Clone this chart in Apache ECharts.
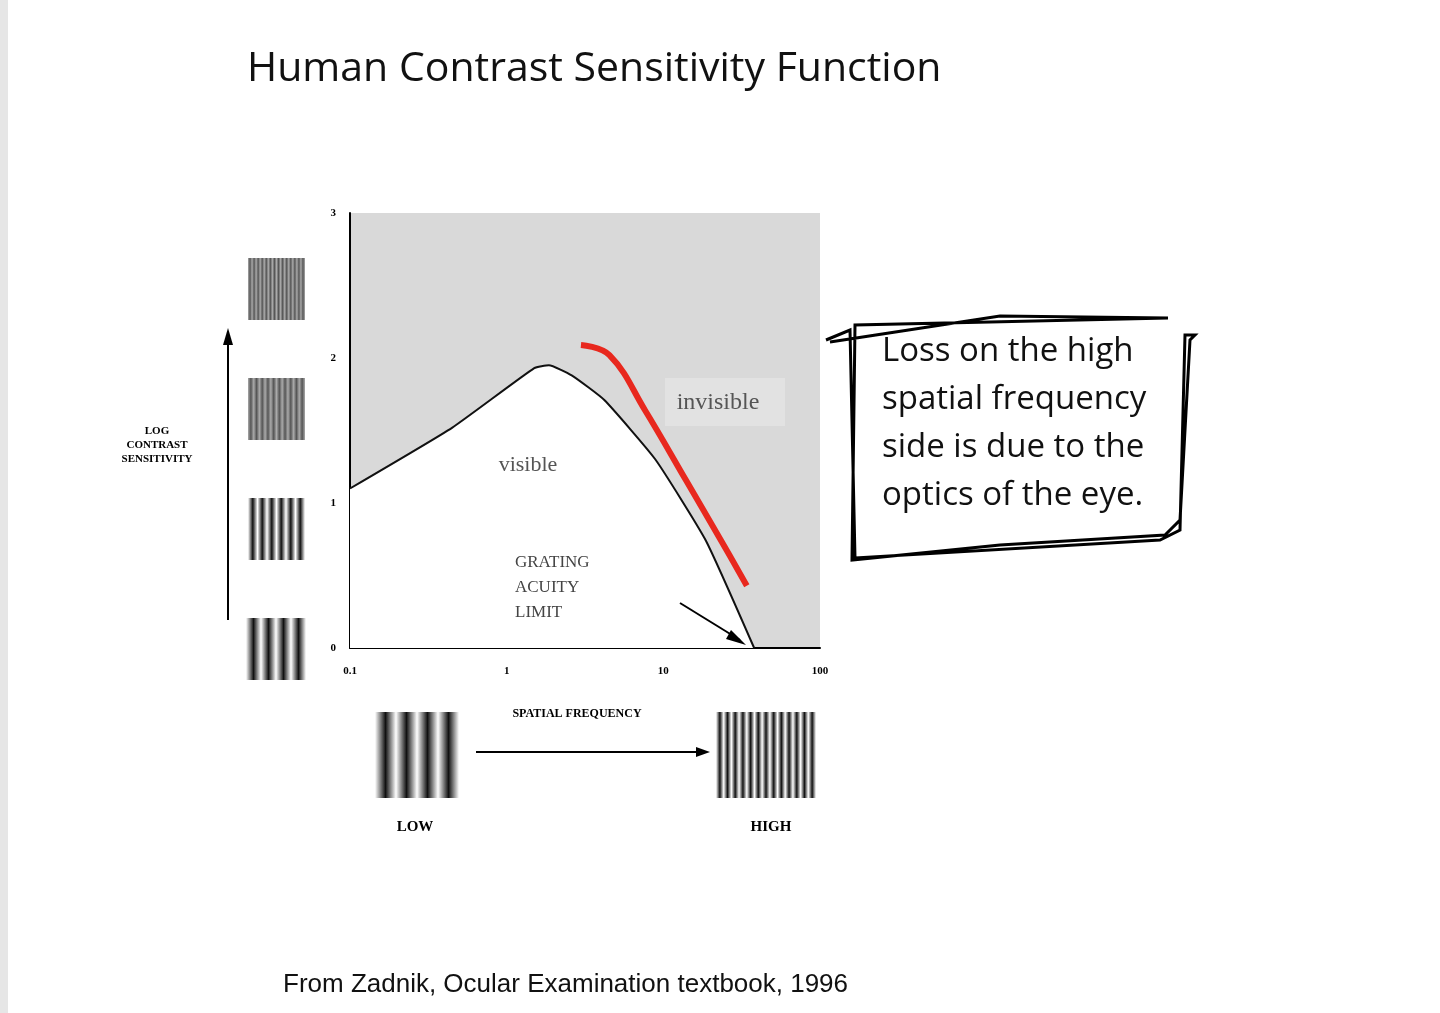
<!DOCTYPE html>
<html><head><meta charset="utf-8">
<script src="https://cdn.jsdelivr.net/npm/echarts@6/dist/echarts.min.js"></script>
<style>html,body{margin:0;background:#fff}#c{width:1440px;height:1013px}</style>
</head><body><div id="c"></div>
<script>
const xTicks = [0.1, 1, 10, 100];
const yTicks = [0, 1, 2, 3];
const csfFreq = [0.1, 0.45, 1.5, 1.86, 2.6, 4.2, 8.9, 18.7, 38];
const csfVal  = [1.10, 1.52, 1.93, 1.95, 1.88, 1.71, 1.30, 0.74, 0];
const redFreq = [2.98, 4.53, 7.64, 13.9, 23.4, 34.1];
const redVal  = [2.09, 2.02, 1.64, 1.16, 0.74, 0.43];

const chart = echarts.init(document.getElementById('c'));
const serif = '"Liberation Serif", "DejaVu Serif", serif';
const g = [];
g.push({type:'rect',shape:{x:0,y:0,width:8,height:1013},style:{fill:'#e6e6e6'}});
function grating(x,y,w,h,n,blur){
  const stops=[];
  for(let i=0;i<=n*2;i++){stops.push({offset:i/(n*2),color:i%2? (blur?'#555':'#111'):(blur?'#aaa':'#fff')});}
  g.push({type:'rect',shape:{x,y,width:w,height:h},style:{fill:new echarts.graphic.LinearGradient(0,0,1,0,stops)}});
}
grating(248,258,57,62,14,true);
grating(248,378,57,62,10,true);
grating(248,498,57,62,6,false);
grating(246,618,60,62,4,false);
grating(375,712,84,86,4,false);
grating(716,712,100,86,13,false);
g.push({type:'line',shape:{x1:228,y1:620,x2:228,y2:338},style:{stroke:'#000',lineWidth:2}});
g.push({type:'polygon',shape:{points:[[223,345],[233,345],[228,328]]},style:{fill:'#000'}});
g.push({type:'line',shape:{x1:476,y1:752,x2:700,y2:752},style:{stroke:'#000',lineWidth:2}});
g.push({type:'polygon',shape:{points:[[696,747],[696,757],[710,752]]},style:{fill:'#000'}});
g.push({type:'line',shape:{x1:680,y1:603,x2:740,y2:640},style:{stroke:'#000',lineWidth:2}});
g.push({type:'polygon',shape:{points:[[731,630],[726,639],[746,645]]},style:{fill:'#000'}});
g.push({type:'text',style:{text:'LOG\nCONTRAST\nSENSITIVITY',x:157,y:445,align:'center',verticalAlign:'middle',font:'bold 11px '+serif,lineHeight:14,fill:'#000'}});
g.push({type:'text',style:{text:'SPATIAL FREQUENCY',x:577,y:714,align:'center',verticalAlign:'middle',font:'bold 12px '+serif,fill:'#000'}});
g.push({type:'text',style:{text:'LOW',x:415,y:827,align:'center',verticalAlign:'middle',font:'bold 15px '+serif,fill:'#000'}});
g.push({type:'text',style:{text:'HIGH',x:771,y:827,align:'center',verticalAlign:'middle',font:'bold 15px '+serif,fill:'#000'}});
g.push({type:'text',style:{text:'visible',x:528,y:465,align:'center',verticalAlign:'middle',font:'22px '+serif,fill:'#555'}});
g.push({type:'rect',shape:{x:665,y:378,width:120,height:48},style:{fill:'#e2e2e2'}});
g.push({type:'text',style:{text:'invisible',x:718,y:403,align:'center',verticalAlign:'middle',font:'24px '+serif,fill:'#555'}});
g.push({type:'text',style:{text:'GRATING\nACUITY\nLIMIT',x:515,y:588,align:'left',verticalAlign:'middle',font:'17px '+serif,lineHeight:25,fill:'#444'}});
g.push({type:'polyline',shape:{points:[[830,342],[1000,316],[1168,318],[990,322],[855,325],[852,560],[1000,545],[1165,535],[1180,520],[1190,340],[1195,335],[1185,335],[1180,530],[1160,540],[855,558],[850,330],[826,340]]},style:{stroke:'#000',lineWidth:3,fill:null}});
g.push({type:'text',style:{text:'Loss on the high\nspatial frequency\nside is due to the\noptics of the eye.',x:882,y:424,align:'left',verticalAlign:'middle',font:'33px "Open Sans", "Noto Sans", sans-serif',lineHeight:48,fill:'#111'}});
g.forEach(e=>{e.z=100;});

chart.setOption({
  animation:false,
  title:[{text:'Human Contrast Sensitivity Function',left:242,top:44,textStyle:{fontFamily:'"Open Sans","Noto Sans",sans-serif',fontSize:41,fontWeight:'normal',color:'#111'}},
         {text:'From Zadnik, Ocular Examination textbook, 1996',left:278,top:967,textStyle:{fontFamily:'"Liberation Sans",Arial,sans-serif',fontSize:26,fontWeight:'normal',color:'#111'}}],
  grid:{left:350,right:620,top:213,bottom:365,show:true,backgroundColor:'#d9d9d9',borderWidth:0},
  xAxis:{type:'log',min:0.1,max:100,logBase:10,axisLine:{lineStyle:{color:'#000',width:2}},axisTick:{show:false},splitLine:{show:false},
    axisLabel:{margin:18,fontFamily:serif,fontWeight:'bold',fontSize:11,color:'#000',formatter:v=>xTicks.includes(+v)?String(v):''}},
  yAxis:{type:'value',min:0,max:3,interval:1,axisLine:{show:true,lineStyle:{color:'#000',width:2}},axisTick:{show:false},splitLine:{show:false},
    axisLabel:{margin:14,fontFamily:serif,fontWeight:'bold',fontSize:11,color:'#000',formatter:v=>yTicks.includes(v)?String(v):''}},
  series:[
    {type:'line',data:csfFreq.map((f,i)=>[f,csfVal[i]]),symbol:'none',smooth:0.15,lineStyle:{color:'#111',width:2},areaStyle:{color:'#fff',opacity:1}},
    {type:'line',data:redFreq.map((f,i)=>[f,redVal[i]]),symbol:'none',smooth:0.4,lineStyle:{color:'#e8281e',width:6}}
  ],
  graphic:g
});
</script></body></html>
